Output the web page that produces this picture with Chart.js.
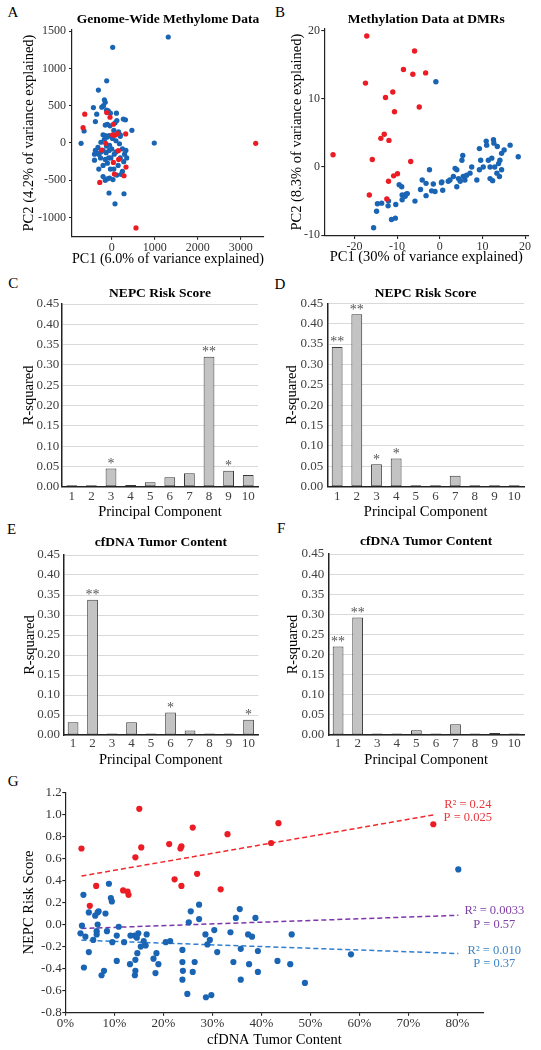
<!DOCTYPE html>
<html>
<head>
<meta charset="utf-8">
<script src="https://cdn.jsdelivr.net/npm/chart.js@4.4.1/dist/chart.umd.min.js"></script>
<style>
  body { margin: 0; background: #fff; width: 541px; height: 1050px; position: relative; overflow: hidden; font-family: "Liberation Serif", serif; }
  canvas { position: absolute; }
  .letter { position: absolute; font-size: 15px; line-height: 15px; color: #000; }
</style>
</head>
<body>
<div class="letter" style="left:7.6px;top:5.4px">A</div>
<div class="letter" style="left:275px;top:5.4px">B</div>
<div class="letter" style="left:8.3px;top:275.7px">C</div>
<div class="letter" style="left:274.6px;top:277.4px">D</div>
<div class="letter" style="left:7px;top:521.7px">E</div>
<div class="letter" style="left:277px;top:520.7px">F</div>
<div class="letter" style="left:7.8px;top:774px">G</div>
<canvas id="cA"></canvas>
<canvas id="cB"></canvas>
<canvas id="cC"></canvas>
<canvas id="cD"></canvas>
<canvas id="cE"></canvas>
<canvas id="cF"></canvas>
<canvas id="cG"></canvas>
<script>
const FONT = '"Liberation Serif", "Times New Roman", serif';
Chart.defaults.font.family = FONT;

// PCA of genome-wide methylome (PC1, PC2)
const methylomeNE = [[-626,386],[-665,206],[-116,408],[-39,345],[39,251],[70,103],[139,126],[325,121],[-139,-4],[-232,-94],
  [155,-103],[39,-260],[162,-220],[333,-323],[286,-439],[62,-417],[-278,-529],[565,-1139],[3349,-5],[20,110]];
const methylomeCRPC = [[23,1282],[1315,1421],[-116,834],[-309,709],[990,0],[-712,-4],[-642,161],[77,-816],[-62,-670],[286,-680],
  [-425,475],[-348,386],[-379,287],[-170,580],[-150,545],[-190,500],[-230,480],[-120,440],[-80,430],[-30,400],
  [110,400],[120,300],[270,320],[320,310],[80,270],[-40,230],[-100,250],[-150,240],[50,170],[160,150],
  [470,170],[150,120],[200,110],[-200,110],[-150,100],[-60,100],[-100,80],[20,60],[-170,50],[200,90],
  [-380,-100],[-350,-130],[-400,-150],[-300,-150],[-250,-120],[-200,-100],[-130,-130],[-60,-100],[0,-80],[100,-120],
  [250,-80],[300,-150],[350,-200],[280,-250],[200,-200],[-70,-200],[-150,-220],[-260,-200],[-400,-230],[-300,-350],
  [-200,-300],[-100,-270],[-30,-350],[50,-350],[150,-300],[250,-380],[-200,-450],[-100,-480],[-50,-470],[30,-490],
  [120,-430],[220,-420],[-150,-500],[-120,-40],[-50,-30],[60,-150],[-20,-200],[180,-10],[-250,10],[-320,-60],[100,30],[330,-100]];

// PCA at DMRs (PC1, PC2)
const dmrNE = [[-17.1,19.2],[-5.9,17.0],[-8.5,14.3],[-6.3,13.6],[-3.3,13.8],[-17.4,12.3],[-11.0,11.0],[-12.7,10.2],[-10.6,8.1],[-4.8,8.8],
  [-13.0,4.8],[-13.8,4.2],[-11.9,3.9],[-25.0,1.8],[-15.8,1.1],[-6.8,0.8],[-9.9,-1.0],[-10.8,-1.3],[-12.0,-2.1],[-16.5,-4.1],[-12.4,-4.7]];
const dmrCRPC = [[-0.9,12.5],[-15.5,-8.9],[-14.8,-6.5],[-14.6,-5.4],[-13.6,-5.3],[-12.0,-5.0],[-12.1,-5.7],[-11.3,-7.7],[-10.4,-7.5],[-10.3,-5.5],
  [-9.5,-2.6],[-8.9,-2.9],[-8.8,-4.1],[-8.8,-4.8],[-8.1,-4.3],[-7.9,-4.0],[-7.6,-3.9],[-5.8,-5.0],[-4.5,-3.3],[-4.1,-1.9],
  [-3.2,-2.4],[-3.2,-4.2],[-2.4,-0.4],[-1.9,-3.5],[-1.1,-3.6],[-1.5,-2.5],[0.5,-2.2],[0.7,-3.4],[0.4,-2.3],[2.0,-2.1],
  [2.4,-1.9],[3.2,-1.4],[3.6,-0.2],[4.0,-0.4],[4.0,-2.9],[4.4,-1.7],[4.8,-2.1],[5.2,1.0],[5.4,1.7],[5.5,-1.4],
  [5.9,-1.9],[6.3,-1.2],[7.1,-0.9],[7.5,0.0],[8.7,-1.9],[9.3,2.7],[9.6,1.0],[9.3,-0.4],[10.2,0.0],[10.9,3.8],
  [11.0,3.2],[11.4,1.0],[11.8,0.0],[11.8,-1.7],[12.2,1.3],[12.4,-2.0],[12.6,4.0],[12.7,3.5],[12.9,0.0],[13.4,-0.9],
  [13.5,3.0],[13.8,0.5],[14.0,-1.4],[14.1,1.0],[14.5,2.0],[14.5,-0.4],[15.1,2.5],[16.5,3.2],[18.4,1.5]];

const aTicksX = [0, 1000, 2000, 3000];
const aTicksY = [-1000, -500, 0, 500, 1000, 1500];
const bTicksX = [-20, -10, 0, 10, 20];
const bTicksY = [-10, 0, 10, 20];

// R-squared of each principal component
const components = ['1','2','3','4','5','6','7','8','9','10'];
const rTicks = [0, 0.05, 0.10, 0.15, 0.20, 0.25, 0.30, 0.35, 0.40, 0.45];
const nepcGenome = [0.001, 0.001, 0.045, 0.004, 0.011, 0.023, 0.033, 0.320, 0.039, 0.029];
const nepcGenomeSig = ['', '', '*', '', '', '', '', '**', '*', ''];
const nepcDmr = [0.343, 0.423, 0.055, 0.069, 0.003, 0.002, 0.027, 0.001, 0.001, 0.001];
const nepcDmrSig = ['**', '**', '*', '*', '', '', '', '', '', ''];
const tumorGenome = [0.032, 0.338, 0.004, 0.032, 0.003, 0.056, 0.011, 0.001, 0.004, 0.038];
const tumorGenomeSig = ['', '**', '', '', '', '*', '', '', '', '*'];
const tumorDmr = [0.220, 0.292, 0.001, 0.004, 0.012, 0.001, 0.027, 0.001, 0.005, 0.001];
const tumorDmrSig = ['**', '**', '', '', '', '', '', '', '', ''];

// cfDNA tumor content (%) vs NEPC risk score
const tcNE    = [3.3, 15.1, 15.5, 14.3, 21.2, 23.5, 23.7, 26.0, 33.1, 43.5, 42.0, 6.3, 5.0, 11.8, 12.7, 12.9, 22.3, 23.7, 26.9, 31.7, 75.1];
const scoreNE = [0.69, 1.05, 0.70, 0.61, 0.73, 0.69, 0.71, 0.88, 0.82, 0.92, 0.74, 0.35, 0.17, 0.31, 0.30, 0.27, 0.41, 0.35, 0.46, 0.32, 0.91];
const tcCRPC    = [3.7, 8.9, 9.3, 9.5, 3.4, 3.1, 4.1, 4.8, 6.1, 6.6, 6.8, 6.6, 6.4, 6.4, 5.7, 8.2, 8.5, 4.8, 3.8, 7.9,
  7.4, 9.6, 10.5, 10.9, 12.0, 10.5, 13.2, 13.3, 14.1, 14.6, 14.9, 15.4, 14.3, 14.7, 14.3, 14.2, 16.0, 16.4, 16.6, 18.0,
  18.4, 18.6, 19.0, 20.5, 21.4, 23.9, 23.9, 24.0, 23.9, 24.9, 25.2, 25.6, 26.4, 26.0, 27.3, 27.3, 28.6, 29.0, 29.5, 29.8,
  28.7, 30.4, 31.0, 33.7, 34.3, 34.8, 35.6, 35.8, 35.8, 37.3, 37.5, 38.1, 38.8, 39.3, 39.3, 43.3, 80.2, 46.2, 58.3, 45.9, 48.9];
const scoreCRPC = [0.27, 0.37, 0.24, 0.21, -0.01, -0.08, -0.11, 0.11, 0.08, 0.11, 0.12, 0.00, -0.06, -0.09, -0.14, 0.10, -0.06, -0.25, -0.39, -0.42,
  -0.46, -0.16, -0.10, -0.02, -0.16, -0.33, -0.36, -0.10, -0.10, -0.12, -0.08, -0.20, -0.32, -0.26, -0.42, -0.46, -0.15, -0.19, -0.09, -0.31,
  -0.44, -0.26, -0.36, -0.16, -0.15, -0.23, -0.34, -0.42, -0.50, -0.63, 0.02, 0.12, -0.34, -0.43, 0.18, 0.05, -0.09, -0.18, -0.14, -0.64,
  -0.66, -0.05, -0.25, -0.07, -0.34, 0.06, 0.14, -0.22, -0.50, -0.09, -0.36, -0.11, 0.06, -0.24, -0.43, -0.33, 0.50, -0.09, -0.27, -0.36, -0.53];
const fitNE   = [[3.3, 0.44], [75.2, 0.995]];
const fitAll  = [[3.3, -0.036], [80.2, 0.084]];
const fitCRPC = [[3.3, -0.142], [80.2, -0.263]];
const fitR2 = ['R² = 0.24', 'R² = 0.0033', 'R² = 0.010'];
const fitP  = ['P = 0.025', 'P = 0.57', 'P = 0.37'];
const gTicksX = [0, 10, 20, 30, 40, 50, 60, 70, 80];
const gTicksY = [-0.8, -0.6, -0.4, -0.2, 0.0, 0.2, 0.4, 0.6, 0.8, 1.0, 1.2];

const RED = '#ec1c24', BLUE = '#1a64b4';
const toXY = pts => pts.map(p => ({x: p[0], y: p[1]}));

// stars above bars
const starPlugin = {
  id: 'stars',
  afterDatasetsDraw(chart, args, opts) {
    const ctx = chart.ctx;
    const meta = chart.getDatasetMeta(0);
    ctx.save();
    ctx.font = '14px ' + FONT;
    ctx.fillStyle = '#555';
    ctx.textAlign = 'center';
    ctx.textBaseline = 'alphabetic';
    (opts.marks || []).forEach((m, i) => {
      if (m) ctx.fillText(m, meta.data[i].x, meta.data[i].y - 0.5);
    });
    ctx.restore();
  }
};

// R2 / P labels at the end of each fitted line
const fitLabelPlugin = {
  id: 'fitLabels',
  afterDatasetsDraw(chart, args, opts) {
    const ctx = chart.ctx;
    ctx.save();
    ctx.font = '12.5px ' + FONT;
    ctx.textAlign = 'center';
    ctx.textBaseline = 'middle';
    (opts.items || []).forEach(it => {
      const pts = chart.getDatasetMeta(it.ds).data;
      const end = pts[pts.length - 1];
      ctx.fillStyle = it.color;
      ctx.fillText(it.lines[0], end.x + it.dx, end.y + it.dy - 6.8);
      ctx.fillText(it.lines[1], end.x + it.dx, end.y + it.dy + 6.8);
    });
    ctx.restore();
  }
};

function build(s, type, data, plugins, pluginOpts) {
  const c = document.getElementById(s.id);
  c.width = s.w; c.height = s.h;
  Object.assign(c.style, {left: s.x0 + 'px', top: s.y0 + 'px', width: s.w + 'px', height: s.h + 'px'});

  const tickLH = s.tickSize * 1.2, axLH = 14.5 * 1.2, tiLH = 13.5 * 1.2;
  const bottom = s.y0 + s.h;
  const classic = s.style === 'classic';
  const tl = classic ? 3 : 0;
  const marks = {display: true, drawOnChartArea: false, drawTicks: true, tickLength: 3, color: '#222', lineWidth: 1.1};

  const x = {
    type: s.xType,
    afterFit: sc => { sc.height = bottom - s.b; },
    border: {display: true, color: '#222', width: classic ? 1.2 : 1.5},
    grid: classic ? marks : {display: false, drawTicks: false},
    ticks: {font: {size: s.tickSize}, color: s.tickColor, maxRotation: 0, autoSkip: false,
      padding: s.xTickY - s.b - tickLH / 2 - tl},
    title: {display: true, text: s.xTitle[0], font: {size: 14.5}, color: '#000',
      padding: {top: 0, bottom: bottom - s.xTitle[1] - axLH / 2}}
  };
  const y = {
    type: 'linear', min: s.yMin, max: s.yMax,
    afterFit: sc => { sc.width = s.l - s.x0; },
    afterBuildTicks: sc => { sc.ticks = s.yVals.map(v => ({value: v})); },
    border: {display: true, color: '#222', width: classic ? 1.2 : 1.5},
    grid: classic ? marks : {display: true, drawTicks: false, color: '#d9d9d9', lineWidth: 1},
    ticks: {font: {size: s.tickSize}, color: s.tickColor, padding: s.l - s.yTickRight - tl, callback: s.yFmt},
    title: {display: true, text: s.yTitle[0], font: {size: 14.5}, color: '#000',
      padding: {top: s.yTitle[1] - s.x0 - axLH / 2, bottom: 0}}
  };
  if (s.xType === 'linear') {
    x.min = s.xMin; x.max = s.xMax;
    x.afterBuildTicks = sc => { sc.ticks = s.xVals.map(v => ({value: v})); };
    x.ticks.callback = s.xFmt;
  }

  let title = {display: false};
  if (s.title) {
    const tp = s.title[1] - s.y0 - tiLH / 2;
    title = {display: true, text: s.title[0], fullSize: false, color: '#000',
      font: {size: 13.5, weight: 'bold'}, padding: {top: tp, bottom: s.t - s.y0 - tp - tiLH}};
  }

  return new Chart(c, {
    type, data, plugins,
    options: {
      responsive: false, animation: false,
      layout: {padding: {left: 0, right: s.x0 + s.w - s.r, top: s.title ? 0 : s.t - s.y0, bottom: 0}},
      plugins: Object.assign({legend: {display: false}, tooltip: {enabled: false}, title}, pluginOpts || {}),
      scales: {x, y}
    }
  });
}

const dot = (pts, color, r) => ({data: pts, backgroundColor: color, borderWidth: 0, pointRadius: r, pointHoverRadius: r});

// A
build({id: 'cA', x0: 0, y0: 0, w: 270, h: 272, l: 72, t: 29.3, r: 264, b: 236.7,
  title: ['Genome-Wide Methylome Data', 19.3], xTitle: ['PC1 (6.0% of variance explained)', 259.5],
  yTitle: ['PC2 (4.2% of variance explained)', 29.3], xTickY: 248.3, yTickRight: 66, tickSize: 12, tickColor: '#333',
  style: 'classic', xType: 'linear', xMin: -923, xMax: 3542, yMin: -1256, yMax: 1524,
  xVals: aTicksX, yVals: aTicksY, xFmt: v => String(v), yFmt: v => String(v)},
  'scatter', {datasets: [dot(toXY(methylomeNE), RED, 2.6), dot(toXY(methylomeCRPC), BLUE, 2.6)]});

// B
build({id: 'cB', x0: 270, y0: 0, w: 271, h: 272, l: 324.3, t: 28.3, r: 528.3, b: 236,
  title: ['Methylation Data at DMRs', 19.3], xTitle: ['PC1 (30% of variance explained)', 257],
  yTitle: ['PC2 (8.3% of variance explained)', 296.7], xTickY: 246.7, yTickRight: 320, tickSize: 12, tickColor: '#333',
  style: 'classic', xType: 'linear', xMin: -27.05, xMax: 20.76, yMin: -10.12, yMax: 20.34,
  xVals: bTicksX, yVals: bTicksY, xFmt: v => String(v), yFmt: v => String(v)},
  'scatter', {datasets: [dot(toXY(dmrNE), RED, 2.7), dot(toXY(dmrCRPC), BLUE, 2.7)]});

// C - F
function barPanel(s, values, sig) {
  Object.assign(s, {tickSize: 13, tickColor: '#404040', style: 'excel', xType: 'category',
    yMin: 0, yMax: 0.45, yVals: rTicks, yFmt: v => v.toFixed(2)});
  build(s, 'bar', {labels: components, datasets: [{data: values, backgroundColor: '#c3c3c3', borderColor: '#3a3a3a',
    borderWidth: 1, borderSkipped: false, minBarLength: 1.5, barPercentage: 0.55, categoryPercentage: 1}]},
    [starPlugin], {stars: {marks: sig}});
}
barPanel({id: 'cC', x0: 0, y0: 272, w: 270, h: 248, l: 62, t: 304, r: 258, b: 486.7,
  title: ['NEPC Risk Score', 293.3], xTitle: ['Principal Component', 511.7], yTitle: ['R-squared', 29.3],
  xTickY: 496.7, yTickRight: 59.3}, nepcGenome, nepcGenomeSig);
barPanel({id: 'cD', x0: 270, y0: 272, w: 271, h: 248, l: 327.3, t: 303.3, r: 524, b: 486.7,
  title: ['NEPC Risk Score', 293.3], xTitle: ['Principal Component', 511.7], yTitle: ['R-squared', 291.7],
  xTickY: 496.7, yTickRight: 323.3}, nepcDmr, nepcDmrSig);
barPanel({id: 'cE', x0: 0, y0: 520, w: 270, h: 250, l: 63.3, t: 555, r: 258.3, b: 735,
  title: ['cfDNA Tumor Content', 542.7], xTitle: ['Principal Component', 760], yTitle: ['R-squared', 30],
  xTickY: 744, yTickRight: 60}, tumorGenome, tumorGenomeSig);
barPanel({id: 'cF', x0: 270, y0: 520, w: 271, h: 250, l: 328.3, t: 554, r: 524, b: 735,
  title: ['cfDNA Tumor Content', 541.7], xTitle: ['Principal Component', 760], yTitle: ['R-squared', 292.7],
  xTickY: 744, yTickRight: 324.3}, tumorDmr, tumorDmrSig);

// G
const fitLine = (pts, color) => ({data: toXY(pts), showLine: true, borderColor: color, borderWidth: 1.5,
  borderDash: [5, 3], pointRadius: 0, pointHoverRadius: 0, fill: false});
build({id: 'cG', x0: 0, y0: 770, w: 541, h: 280, l: 65.3, t: 792.3, r: 483.3, b: 1012.7,
  title: null, xTitle: ['cfDNA Tumor Content', 1040], yTitle: ['NEPC Risk Score', 29.3],
  xTickY: 1024, yTickRight: 61.7, tickSize: 13, tickColor: '#333', style: 'classic', xType: 'linear',
  xMin: 0, xMax: 85.3, yMin: -0.8, yMax: 1.2, xVals: gTicksX, yVals: gTicksY,
  xFmt: v => v + '%', yFmt: v => v.toFixed(1)},
  'scatter', {datasets: [
    dot(tcNE.map((v, i) => ({x: v, y: scoreNE[i]})), RED, 3.1),
    dot(tcCRPC.map((v, i) => ({x: v, y: scoreCRPC[i]})), BLUE, 3.1),
    fitLine(fitNE, '#f0282d'),
    fitLine(fitAll, '#7b35a8'),
    fitLine(fitCRPC, '#2f7fd0')
  ]},
  [fitLabelPlugin],
  {fitLabels: {items: [
    {ds: 2, lines: [fitR2[0], fitP[0]], color: '#e8383d', dx: 34, dy: -3.5},
    {ds: 3, lines: [fitR2[1], fitP[1]], color: '#7e3fa3', dx: 36, dy: 2.5},
    {ds: 4, lines: [fitR2[2], fitP[2]], color: '#3d85c6', dx: 36, dy: 3.6}
  ]}});
</script>
</body>
</html>
